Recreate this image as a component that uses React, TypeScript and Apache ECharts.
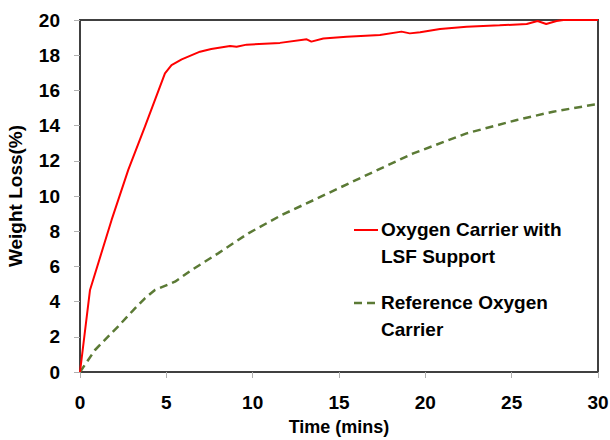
import React, { useEffect, useRef } from "react";
import * as echarts from "echarts";

const redTime = [0, 0.58, 1.83, 2.8, 3.76, 4.92, 5.3, 5.89, 6.95, 7.6, 8.69, 9.07, 9.65, 11.58, 13.13, 13.4, 14.09, 15.44, 17.37, 18.62, 19.1, 19.7, 20.85, 22.39, 24.3, 25.87, 26.5, 27.0, 27.6, 28.0, 29.0, 30.0];
const redWeight = [0, 4.66, 8.64, 11.5, 13.94, 16.97, 17.44, 17.76, 18.2, 18.35, 18.52, 18.48, 18.6, 18.7, 18.9, 18.77, 18.95, 19.05, 19.15, 19.34, 19.24, 19.3, 19.49, 19.62, 19.7, 19.77, 19.94, 19.77, 19.94, 20.0, 20.0, 20.0];

const greenTime = [0, 0.87, 2.2, 3.09, 3.76, 4.34, 5.5, 6.47, 8.0, 9.75, 11.68, 13.6, 16.4, 19.3, 22.39, 25.3, 27.4, 29.8, 30.0];
const greenWeight = [0, 1.25, 2.58, 3.52, 4.19, 4.66, 5.13, 5.8, 6.74, 7.88, 8.92, 9.8, 11.1, 12.42, 13.56, 14.32, 14.79, 15.2, 15.22];

const seriesNames = ["Oxygen Carrier with\nLSF Support", "Reference Oxygen\nCarrier"];
const xTitle = "Time (mins)";
const yTitle = "Weight Loss(%)";

const FONT = "'Liberation Sans', Arial, sans-serif";
const RED = "#ff0000";
const GREEN = "#5b7a35";

export default function App() {
  const ref = useRef<HTMLDivElement>(null);
  useEffect(() => {
    if (!ref.current) return;
    const chart = echarts.init(ref.current, null, { renderer: "svg" });
    const redData = redTime.map((t, i) => [t, redWeight[i]]);
    const greenData = greenTime.map((t, i) => [t, greenWeight[i]]);
    const labelStyle = { fontFamily: FONT, fontWeight: "bold" as const, fontSize: 19, color: "#000" };
    chart.setOption({
      animation: false,
      backgroundColor: "#fff",
      grid: {
        left: 80,
        top: 20,
        right: 12,
        bottom: 68,
        containLabel: false,
        outerBoundsMode: "none",
        show: true,
        borderColor: "#404040",
        borderWidth: 2,
        backgroundColor: "transparent",
      },
      xAxis: {
        type: "value",
        min: 0,
        max: 30,
        interval: 5,
        name: xTitle,
        nameLocation: "middle",
        nameGap: 46,
        nameTextStyle: { ...labelStyle, fontSize: 18 },
        axisLine: { show: true, lineStyle: { color: "#404040", width: 2 } },
        axisTick: { show: true, length: 6, lineStyle: { color: "#b0b0b0", width: 1 } },
        axisLabel: { ...labelStyle, margin: 21 },
        splitLine: { show: false },
      },
      yAxis: {
        type: "value",
        min: 0,
        max: 20,
        interval: 2,
        name: yTitle,
        nameLocation: "middle",
        nameGap: 55,
        nameTextStyle: { ...labelStyle, fontSize: 19 },
        axisLine: { show: true, lineStyle: { color: "#404040", width: 2 } },
        axisTick: { show: true, length: 6, lineStyle: { color: "#b0b0b0", width: 1 } },
        axisLabel: { ...labelStyle, margin: 20 },
        splitLine: { show: false },
      },
      series: [
        {
          name: seriesNames[0],
          type: "line",
          data: redData,
          showSymbol: false,
          symbol: "none",
          lineStyle: { color: RED, width: 2 },
          itemStyle: { color: RED },
          z: 3,
        },
        {
          name: seriesNames[1],
          type: "line",
          data: greenData,
          showSymbol: false,
          symbol: "none",
          lineStyle: { color: GREEN, width: 2.5, type: [8, 5] },
          itemStyle: { color: GREEN },
          z: 2,
        },
      ],
      graphic: [
        {
          type: "line",
          shape: { x1: 354, y1: 230, x2: 378, y2: 230 },
          style: { stroke: RED, lineWidth: 2 },
        },
        {
          type: "text",
          x: 381,
          y: 216,
          style: {
            text: seriesNames[0],
            font: `bold 19px ${FONT}`,
            fill: "#000",
            lineHeight: 27,
          },
        },
        {
          type: "line",
          shape: { x1: 354, y1: 303, x2: 378, y2: 303 },
          style: { stroke: GREEN, lineWidth: 2.5, lineDash: [8, 5] },
        },
        {
          type: "text",
          x: 381,
          y: 289,
          style: {
            text: seriesNames[1],
            font: `bold 19px ${FONT}`,
            fill: "#000",
            lineHeight: 27,
          },
        },
      ],
    });
    return () => chart.dispose();
  }, []);
  return <div ref={ref} style={{ width: 610, height: 440, position: "absolute", left: 0, top: 0 }} />;
}
